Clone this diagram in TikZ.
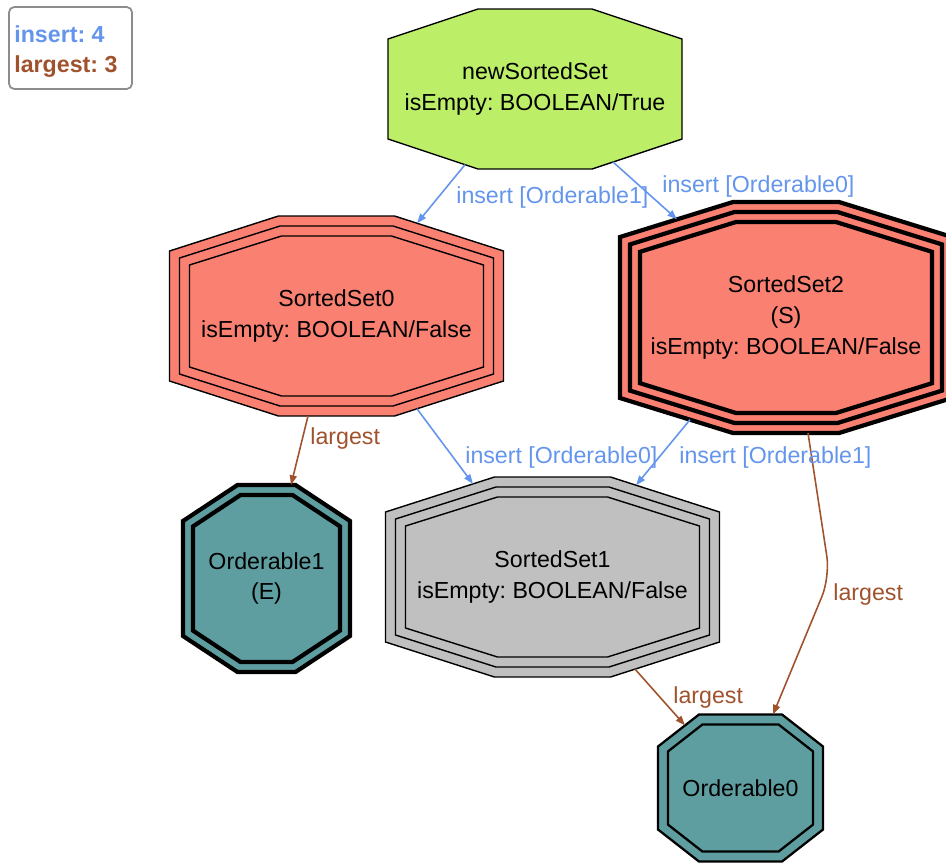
\documentclass[tikz,border=0pt]{standalone}
\usepackage{fontspec}
\setmainfont{Liberation Sans}
\frenchspacing
\usetikzlibrary{arrows.meta,backgrounds}
\definecolor{setgreen}{HTML}{BCEE68}
\definecolor{setred}{HTML}{FA8072}
\definecolor{setgray}{HTML}{C0C0C0}
\definecolor{elemteal}{HTML}{5F9EA0}
\definecolor{insertc}{HTML}{6495ED}
\definecolor{largestc}{HTML}{A0522D}
\definecolor{legendc}{HTML}{8C8C8C}
% octagon around the origin: half width, half height, chamfer x, chamfer y
\newcommand{\octpath}[4]{(-#1,#4-#2) -- (-#1,#2-#4) -- (#3-#1,#2) -- (#1-#3,#2)
  -- (#1,#2-#4) -- (#1,#4-#2) -- (#1-#3,-#2) -- (#3-#1,-#2) -- cycle}
\tikzset{
  thinline/.style={draw=black, line width=0.8pt},
  boldline/.style={draw=black, line width=2.4pt},
  midline/.style={draw=black, line width=1.3pt},
  nodetext/.style={align=center, inner sep=0pt, font=\fontsize{13.2}{17.5}\selectfont},
  lbl/.style={anchor=west, inner sep=0pt, font=\fontsize{13.2}{16}\selectfont},
  ins/.style={draw=insertc, line width=0.9pt, -{Triangle[length=5.5pt,width=4pt]}},
  lrg/.style={draw=largestc, line width=0.9pt, -{Triangle[length=5.5pt,width=4pt]}}
}

\begin{document}
\begin{tikzpicture}[x=0.02cm,y=-0.02cm]
\useasboundingbox (0,0) rectangle (946,863);

% legend
\node[draw=legendc, line width=1pt, rounded corners=3pt, inner sep=0pt,
  minimum width=123*0.02cm, minimum height=82*0.02cm] (legend) at (70.5,48) {};
\node[lbl, font=\fontsize{13.2}{16}\selectfont\bfseries, text=insertc] (leg1) at (14,34) {insert: 4};
\node[lbl, font=\fontsize{13.2}{16}\selectfont\bfseries, text=largestc] (leg2) at (14,67) {largest: 3};

% states
\node[nodetext] (ns) at (535,89) {newSortedSet\\isEmpty: BOOLEAN/True};
\node[nodetext] (ss0) at (336.5,316) {SortedSet0\\isEmpty: BOOLEAN/False};
\node[nodetext] (ss2) at (786,317.5) {SortedSet2\\(S)\\isEmpty: BOOLEAN/False};
\node[nodetext] (ss1) at (552.5,577) {SortedSet1\\isEmpty: BOOLEAN/False};
\node[nodetext] (or1) at (266.5,578.5) {Orderable1\\(E)};
\node[nodetext] (or0) at (740.5,788) {Orderable0};

\begin{scope}[on background layer]
  \draw[thinline, fill=setgreen, shift={(ns)}] \octpath{147}{80}{90}{30};
  % SortedSet0
  \draw[thinline, fill=setred, shift={(ss0)}] \octpath{167}{100}{109}{35};
  \draw[thinline, shift={(ss0)}] \octpath{157}{90}{100.5}{32};
  \draw[thinline, shift={(ss0)}] \octpath{147}{80}{92}{29};
  % SortedSet2
  \draw[boldline, fill=setred, shift={(ss2)}] \octpath{166}{115.5}{113}{35};
  \draw[boldline, shift={(ss2)}] \octpath{156}{105.5}{104.5}{32.4};
  \draw[boldline, shift={(ss2)}] \octpath{146}{95.5}{96}{29.8};
  % SortedSet1
  \draw[thinline, fill=setgray, shift={(ss1)}] \octpath{167}{100}{109}{35};
  \draw[thinline, shift={(ss1)}] \octpath{157}{90}{100.5}{32};
  \draw[thinline, shift={(ss1)}] \octpath{147}{80}{92}{29};
  % Orderable1
  \draw[boldline, fill=elemteal, shift={(or1)}] \octpath{83.5}{93.5}{54.5}{36};
  \draw[boldline, shift={(or1)}] \octpath{73.5}{83.5}{47.5}{31.4};
  % Orderable0
  \draw[midline, fill=elemteal, shift={(or0)}] \octpath{82.5}{73.5}{41}{32};
  \draw[midline, shift={(or0)}] \octpath{72.5}{63.5}{34.4}{26.9};
\end{scope}

% transitions
\coordinate (bend) at (830,577);
\draw[ins] ([shift={(-70,75.7)}]ns.center) -- ([shift={(80.5,-92.8)}]ss0.center);
\draw[ins] ([shift={(78,73)}]ns.center) -- ([shift={(-109,-98.2)}]ss2.center);
\draw[ins] ([shift={(80.5,92.8)}]ss0.center) -- ([shift={(-79.5,-93.1)}]ss1.center);
\draw[ins] ([shift={(-96,102.2)}]ss2.center) -- ([shift={(83.5,-91.8)}]ss1.center);
\draw[lrg] ([shift={(-28.5,100)}]ss0.center) -- ([shift={(24.5,-93.5)}]or1.center);
\draw[lrg] ([shift={(82.5,92.1)}]ss1.center) -- ([shift={(-55.5,-62.6)}]or0.center);
\draw[lrg, rounded corners=12pt] ([shift={(22,115.5)}]ss2.center) -- (bend)
  -- ([shift={(32.5,-73.5)}]or0.center);

% edge labels
\node[lbl, text=insertc] (e1) at (456,197) {insert [Orderable1]};
\node[lbl, text=insertc] (e2) at (662,186) {insert [Orderable0]};
\node[lbl, text=insertc] (e3) at (465,457) {insert [Orderable0]};
\node[lbl, text=insertc] (e4) at (679,457) {insert [Orderable1]};
\node[lbl, text=largestc] (e5) at (310,438) {largest};
\node[lbl, text=largestc] (e6) at (833,594) {largest};
\node[lbl, text=largestc] (e7) at (673,697) {largest};
\end{tikzpicture}
\end{document}
